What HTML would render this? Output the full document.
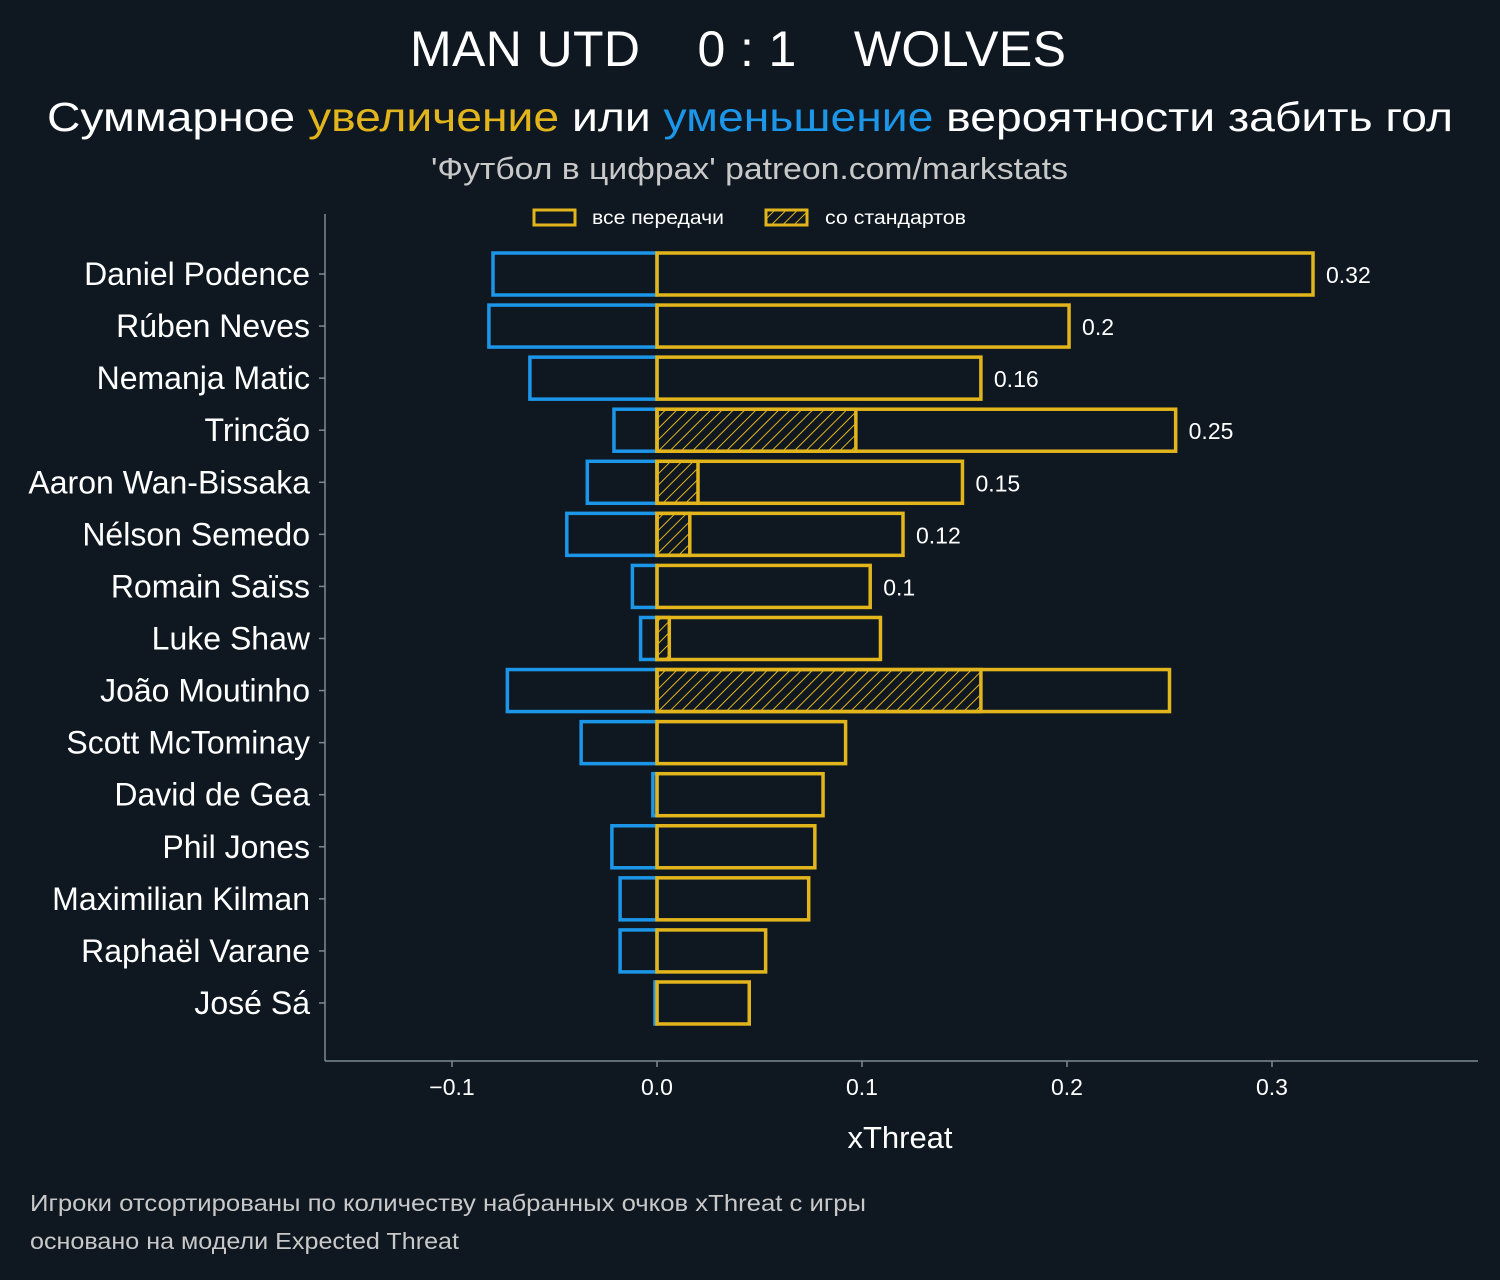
<!DOCTYPE html>
<html><head><meta charset="utf-8"><style>
body{margin:0;background:#0f1820;width:1500px;height:1275px;overflow:hidden;font-family:"Liberation Sans","DejaVu Sans",sans-serif}
svg text{font-family:"Liberation Sans","DejaVu Sans",sans-serif}
</style></head><body>
<svg id="c" width="1500" height="1275" xmlns="http://www.w3.org/2000/svg">
<defs><pattern id="hatch" patternUnits="userSpaceOnUse" width="8" height="8" patternTransform="rotate(45)"><line x1="0" y1="0" x2="0" y2="8" stroke="#e2b51c" stroke-width="2"/></pattern></defs>
<rect width="1500" height="1275" fill="#0f1820"/>
<text x="738" y="66" text-anchor="middle" font-size="50" fill="#fff" textLength="656">MAN UTD &#160;&#160; 0 : 1 &#160;&#160; WOLVES</text>
<text x="47" y="131" font-size="41" fill="#fff" textLength="1406" lengthAdjust="spacingAndGlyphs">Суммарное <tspan fill="#e2b51c">увеличение</tspan> или <tspan fill="#1c96e8">уменьшение</tspan> вероятности забить гол</text>
<text x="431" y="179" font-size="31" fill="#c8c8c8" textLength="637" lengthAdjust="spacingAndGlyphs">'Футбол в цифрах' patreon.com/markstats</text>
<g>
<rect x="534" y="210" width="41" height="15" fill="none" stroke="#e2b51c" stroke-width="3"/>
<text x="592" y="224" font-size="19" fill="#fff" textLength="132" lengthAdjust="spacingAndGlyphs">все передачи</text>
<rect x="766" y="210" width="41" height="15" fill="url(#hatch)" stroke="#e2b51c" stroke-width="3"/>
<text x="825" y="224" font-size="19" fill="#fff" textLength="141" lengthAdjust="spacingAndGlyphs">со стандартов</text>
</g>
<line x1="325" y1="214" x2="325" y2="1061" stroke="#7d8a92" stroke-width="1.5"/>
<line x1="325" y1="1061" x2="1478" y2="1061" stroke="#7d8a92" stroke-width="1.5"/>
<text x="900" y="1148" text-anchor="middle" font-size="31" fill="#fff">xThreat</text>
<text x="30" y="1211" font-size="23" fill="#c8c8c8" textLength="836" lengthAdjust="spacingAndGlyphs">Игроки отсортированы по количеству набранных очков xThreat с игры</text>
<text x="30" y="1249" font-size="23" fill="#c8c8c8" textLength="429" lengthAdjust="spacingAndGlyphs">основано на модели Expected Threat</text>
<g id="marks"></g>
</svg>
<script>
const players=["Daniel Podence","Rúben Neves","Nemanja Matic","Trincão","Aaron Wan-Bissaka","Nélson Semedo","Romain Saïss","Luke Shaw","João Moutinho","Scott McTominay","David de Gea","Phil Jones","Maximilian Kilman","Raphaël Varane","José Sá"];
const positive=[0.320,0.201,0.158,0.253,0.149,0.120,0.104,0.109,0.250,0.092,0.081,0.077,0.074,0.053,0.045];
const negative=[-0.080,-0.082,-0.062,-0.021,-0.034,-0.044,-0.012,-0.008,-0.073,-0.037,-0.002,-0.022,-0.018,-0.018,-0.001];
const setPiece=[0,0,0,0.097,0.020,0.016,0,0.006,0.158,0,0,0,0,0,0];
const valueLabels=["0.32","0.2","0.16","0.25","0.15","0.12","0.1",null,null,null,null,null,null,null,null];
const xTicks=[-0.1,0.0,0.1,0.2,0.3];
const xTickLabels=["−0.1","0.0","0.1","0.2","0.3"];
const X=v=>657+v*2050;
const Y=i=>274+i*52.07;
const NS="http://www.w3.org/2000/svg";
const g=document.getElementById('marks');
function mk(t,a){const e=document.createElementNS(NS,t);for(const k in a)e.setAttribute(k,a[k]);g.appendChild(e);return e;}
xTicks.forEach((t,i)=>{
 const l=mk('line',{x1:X(t),x2:X(t),y1:1061,y2:1067,stroke:'#7d8a92','stroke-width':1.5});
 
 
 const tx=mk('text',{x:X(t),y:1095,'text-anchor':'middle','font-size':23,fill:'#fff'});
 tx.textContent=xTickLabels[i];
 
 
});
players.forEach((p,i)=>{
 const y=Y(i),h=42;
 const tk=mk('line',{x1:319,x2:325,y1:y,y2:y,stroke:'#7d8a92','stroke-width':1.5});
 
 
 const lb=mk('text',{x:310,y:y+11,'text-anchor':'end','font-size':32,fill:'#fff'});
 lb.textContent=p;
 
 
 const nb=mk('rect',{x:X(negative[i]),y:y-h/2,width:X(0)-X(negative[i]),height:h,fill:'none',stroke:'#1c96e8','stroke-width':3.5});
 
 
 if(setPiece[i]>0){
  const sb=mk('rect',{x:X(0),y:y-h/2,width:X(setPiece[i])-X(0),height:h,fill:'url(#hatch)',stroke:'#e2b51c','stroke-width':3.5});
  
  
 }
 const pb=mk('rect',{x:X(0),y:y-h/2,width:X(positive[i])-X(0),height:h,fill:'none',stroke:'#e2b51c','stroke-width':3.5});
 
 
 if(valueLabels[i]){
  const vl=mk('text',{x:X(positive[i])+13,y:y+9,'font-size':23,fill:'#fff'});
  vl.textContent=valueLabels[i];
  
  
 }
});
</script>
</body></html>
